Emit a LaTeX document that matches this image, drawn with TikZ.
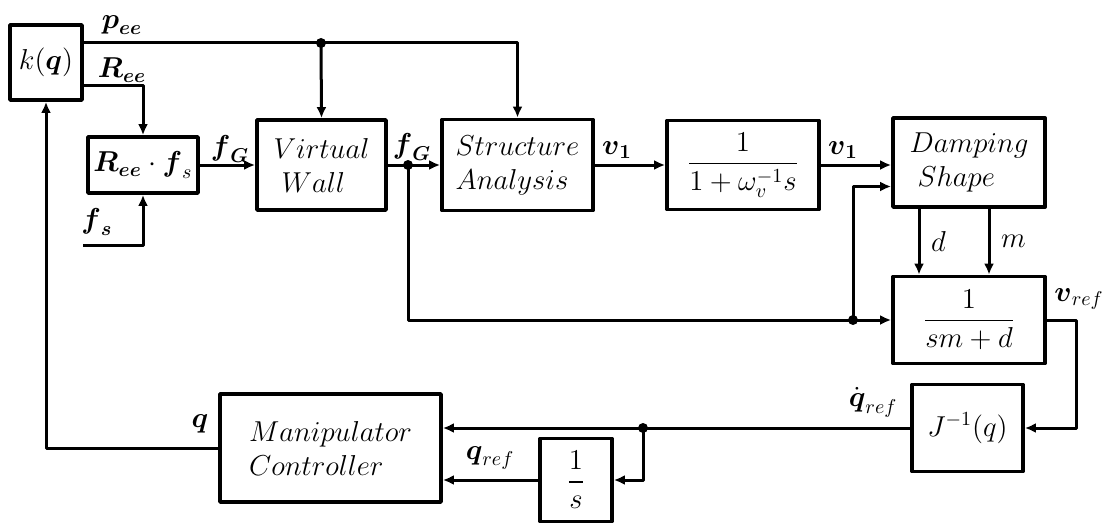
\documentclass[tikz,border=0pt]{standalone}
\usepackage{amsmath}
\usetikzlibrary{arrows.meta,calc}

\begin{document}
\begin{tikzpicture}[x=0.5pt, y=-0.5pt, font=\Large, line join=round, line width=1.5pt,
	>={Latex[length=5.5pt,width=5pt]},
	blk/.style={draw, line width=1.9pt, inner sep=0pt, align=left}]
	\useasboundingbox (0,0) rectangle (1111,524);
	% blocks
	\node[blk, minimum width=36pt, minimum height=37.5pt] (kq) at (46,62.5) {$k(\boldsymbol{q})$};
	\node[blk, minimum width=55pt, minimum height=28pt] (ree) at (143,165) {$\boldsymbol{R}_{\boldsymbol{ee}}\cdot\boldsymbol{f}_{s}$};
	\node[blk, minimum width=64.5pt, minimum height=45pt] (vw) at (321.5,165) {$Virtual$\\[-1pt]$\;Wall$};
	\node[blk, minimum width=75.5pt, minimum height=45.5pt] (sa) at (517.5,165) {$Structure$\\[-1pt]$Analysis$};
	\node[blk, minimum width=76pt, minimum height=44.5pt] (lp) at (743,165) {$\dfrac{1}{1+\omega_{v}^{-1}s}$};
	\node[blk, minimum width=76pt, minimum height=44.5pt] (ds) at (969,162.5) {$Damping$\\[-1pt]$\;Shape$};
	\node[blk, minimum width=76pt, minimum height=43.5pt] (adm) at (969,320) {$\dfrac{1}{sm+d}$};
	\node[blk, minimum width=55.5pt, minimum height=43.5pt] (jinv) at (967.5,428) {$J^{-1}(q)$};
	\node[blk, minimum width=110.5pt, minimum height=54pt] (mc) at (330.5,448) {$Manipulator$\\[-1pt]$Controller$};
	\node[blk, minimum width=36pt, minimum height=41.5pt] (integ) at (576,480) {$\dfrac{1}{s}$};
	% branch points and free end
	\coordinate (pj) at (321,43);
	\coordinate (rj) at (143,86);
	\coordinate (fs) at (83,245);
	\coordinate (fj) at (408,165);
	\coordinate (bj) at (853,320);
	\coordinate (qj) at (643,428);
	% signals
	\draw[->] (kq.east |- pj) -- (pj) -| (sa.north);
	\draw[->] (pj) -- (vw.north);
	\draw[->] (kq.east |- rj) -| (ree.north);
	\draw[->] (fs) -| (ree.south);
	\draw[->] (ree.east) -- (vw.west);
	\draw (vw.east) -- (fj);
	\draw[->] (fj) -- (sa.west);
	\draw[->] (sa.east) -- (lp.west);
	\draw[->] (lp.east) -- (lp.east -| ds.west);
	\draw[->] (fj) |- (adm.west);
	\draw[->] (bj) |- ($(ds.west)+(0,24)$);
	\draw[->] ([xshift=-25pt]ds.south) -- ([xshift=-25pt]adm.north) node[midway, right=2pt] {$d$};
	\draw[->] ([xshift=10pt]ds.south) -- ([xshift=10pt]adm.north) node[midway, right=2pt] {$m$};
	\draw[->] (adm.east) -- ++(30,0) |- (jinv.east);
	\draw[->] (jinv.west) -- (jinv.west -| mc.east);
	\draw[->] (qj) |- (integ.east);
	\draw[->] (integ.west) -- (integ.west -| mc.east);
	\draw[->] (mc.west) -| (kq.south);
	\foreach \p in {pj,fj,bj,qj} \fill (\p) circle (2.5pt);
	% labels
	\node (lpee) at (122,25) {$\boldsymbol{p}_{\boldsymbol{ee}}$};
	\node (lree) at (122,70) {$\boldsymbol{R}_{\boldsymbol{ee}}$};
	\node (lfs) at (97,222) {$\boldsymbol{f}_{\boldsymbol{s}}$};
	\node (lfg1) at (230,149) {$\boldsymbol{f}_{\boldsymbol{G}}$};
	\node (lfg2) at (412,147) {$\boldsymbol{f}_{\boldsymbol{G}}$};
	\node (lv1a) at (617,150) {$\boldsymbol{v}_{\boldsymbol{1}}$};
	\node (lv1b) at (843,150) {$\boldsymbol{v}_{\boldsymbol{1}}$};
	\node (lvref) at (1079,299) {$\boldsymbol{v}_{ref}$};
	\node (lqdot) at (873,402) {$\dot{\boldsymbol{q}}_{ref}$};
	\node (lqref) at (490,458) {$\boldsymbol{q}_{ref}$};
	\node (lq) at (200,424) {$\boldsymbol{q}$};
\end{tikzpicture}
\end{document}
